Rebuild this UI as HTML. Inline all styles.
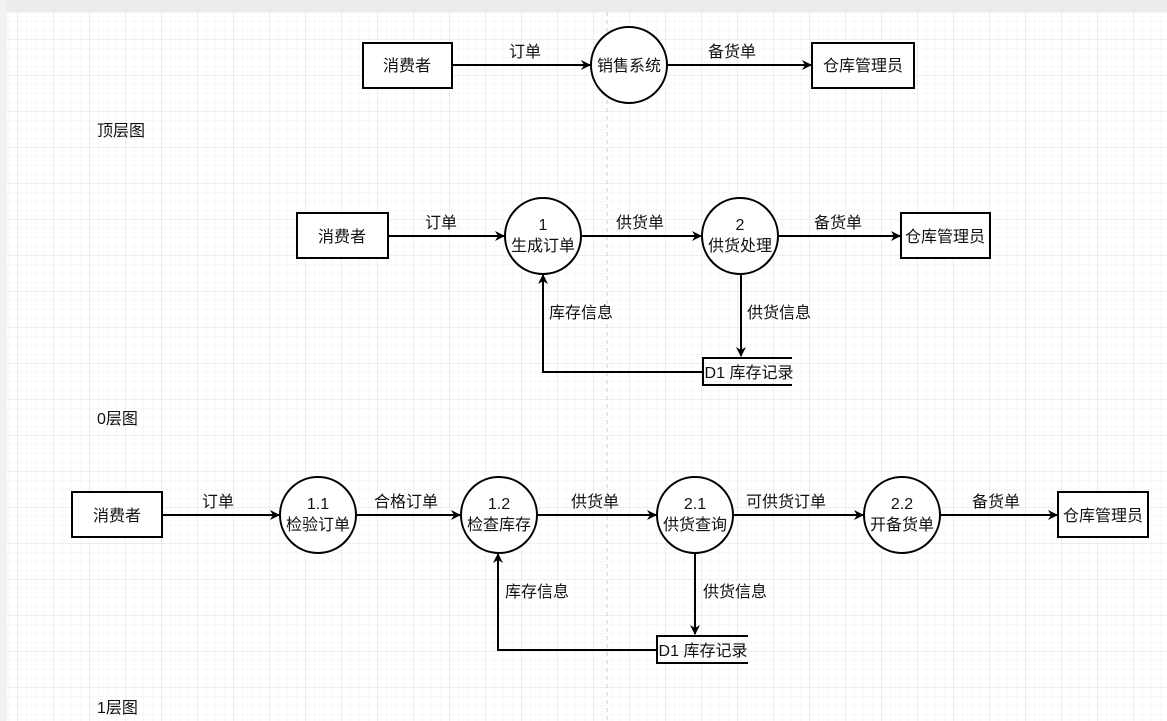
<!DOCTYPE html>
<html><head><meta charset="utf-8"><style>
html,body{margin:0;padding:0;background:#fff}
svg{display:block}
text{font-family:"Liberation Sans","Noto Sans CJK SC",sans-serif;font-size:16px;fill:#111}
</style></head><body>
<svg width="1167" height="721" viewBox="0 0 1167 721" xmlns="http://www.w3.org/2000/svg">
<defs>
<pattern id="minor" width="9" height="9" patternUnits="userSpaceOnUse" x="0" y="4">
<path d="M9 0V9M0 9H9" stroke="#f0f0f0" stroke-width="1" fill="none"/>
</pattern>
<pattern id="major" width="36" height="36" patternUnits="userSpaceOnUse" x="18" y="4">
<path d="M36 0V36M0 36H36" stroke="#dedede" stroke-width="1" fill="none"/>
</pattern>
<marker id="ar" markerWidth="10" markerHeight="10" refX="9" refY="5" orient="auto" markerUnits="userSpaceOnUse">
<path d="M0,0 L10,5 L0,10 L3,5 Z" fill="#000"/>
</marker>
</defs>
<rect width="1167" height="721" fill="#fff"/>
<rect width="1167" height="721" fill="url(#minor)"/>
<rect width="1167" height="721" fill="url(#major)"/>
<rect x="0" y="0" width="1167" height="12" fill="#ececec"/>
<rect x="0" y="0" width="7" height="721" fill="#f2f2f2"/>
<line x1="607" y1="12" x2="607" y2="721" stroke="#c8c8c8" stroke-dasharray="4,4"/>
<g stroke="#000" stroke-width="2" fill="#fff">
<rect x="363" y="43" width="89" height="45"/>
<circle cx="629" cy="65" r="38"/>
<rect x="812" y="43" width="102" height="45"/>
<line x1="452" y1="65" x2="590" y2="65" marker-end="url(#ar)"/>
<line x1="667" y1="65" x2="811" y2="65" marker-end="url(#ar)"/>
<rect x="297" y="213" width="91" height="45"/>
<circle cx="543" cy="236" r="38"/>
<circle cx="740" cy="236" r="38"/>
<rect x="901" y="213" width="89" height="45"/>
<line x1="388" y1="236" x2="504" y2="236" marker-end="url(#ar)"/>
<line x1="581" y1="236" x2="701" y2="236" marker-end="url(#ar)"/>
<line x1="778" y1="236" x2="900" y2="236" marker-end="url(#ar)"/>
<line x1="741" y1="274" x2="741" y2="356" marker-end="url(#ar)"/>
<polyline fill="none" points="703,372 543,372 543,275" marker-end="url(#ar)"/>
<polyline fill="none" points="792,358 703,358 703,385 792,385"/>
<rect x="72" y="492" width="90" height="45"/>
<circle cx="318" cy="515" r="38"/>
<circle cx="499" cy="515" r="38"/>
<circle cx="695" cy="515" r="38"/>
<circle cx="902" cy="515" r="38"/>
<rect x="1058" y="492" width="90" height="45"/>
<line x1="162" y1="515" x2="279" y2="515" marker-end="url(#ar)"/>
<line x1="356" y1="515" x2="460" y2="515" marker-end="url(#ar)"/>
<line x1="537" y1="515" x2="656" y2="515" marker-end="url(#ar)"/>
<line x1="733" y1="515" x2="863" y2="515" marker-end="url(#ar)"/>
<line x1="940" y1="515" x2="1057" y2="515" marker-end="url(#ar)"/>
<line x1="695" y1="553" x2="695" y2="634" marker-end="url(#ar)"/>
<polyline fill="none" points="657,650 498,650 498,554" marker-end="url(#ar)"/>
<polyline fill="none" points="748,636 657,636 657,663 748,663"/>
</g>
<g text-anchor="middle">
<text x="407" y="71">消费者</text>
<text x="629" y="71">销售系统</text>
<text x="863" y="71">仓库管理员</text>
<text x="525" y="57">订单</text>
<text x="732" y="57">备货单</text>
<text x="342" y="242">消费者</text>
<text x="543" y="230">1</text>
<text x="543" y="251">生成订单</text>
<text x="740" y="230">2</text>
<text x="740" y="251">供货处理</text>
<text x="945" y="242">仓库管理员</text>
<text x="441" y="228">订单</text>
<text x="640" y="228">供货单</text>
<text x="838" y="228">备货单</text>
<text x="581" y="318">库存信息</text>
<text x="779" y="318">供货信息</text>
<text x="749" y="378">D1 库存记录</text>
<text x="117" y="521">消费者</text>
<text x="318" y="509">1.1</text>
<text x="318" y="530">检验订单</text>
<text x="499" y="509">1.2</text>
<text x="499" y="530">检查库存</text>
<text x="695" y="509">2.1</text>
<text x="695" y="530">供货查询</text>
<text x="902" y="509">2.2</text>
<text x="902" y="530">开备货单</text>
<text x="1103" y="521">仓库管理员</text>
<text x="218" y="507">订单</text>
<text x="406" y="507">合格订单</text>
<text x="595" y="507">供货单</text>
<text x="786" y="507">可供货订单</text>
<text x="996" y="507">备货单</text>
<text x="537" y="597">库存信息</text>
<text x="735" y="597">供货信息</text>
<text x="703" y="656">D1 库存记录</text>
</g>
<text x="97" y="136">顶层图</text>
<text x="97" y="424">0层图</text>
<text x="97" y="713">1层图</text>
</svg>
</body></html>
